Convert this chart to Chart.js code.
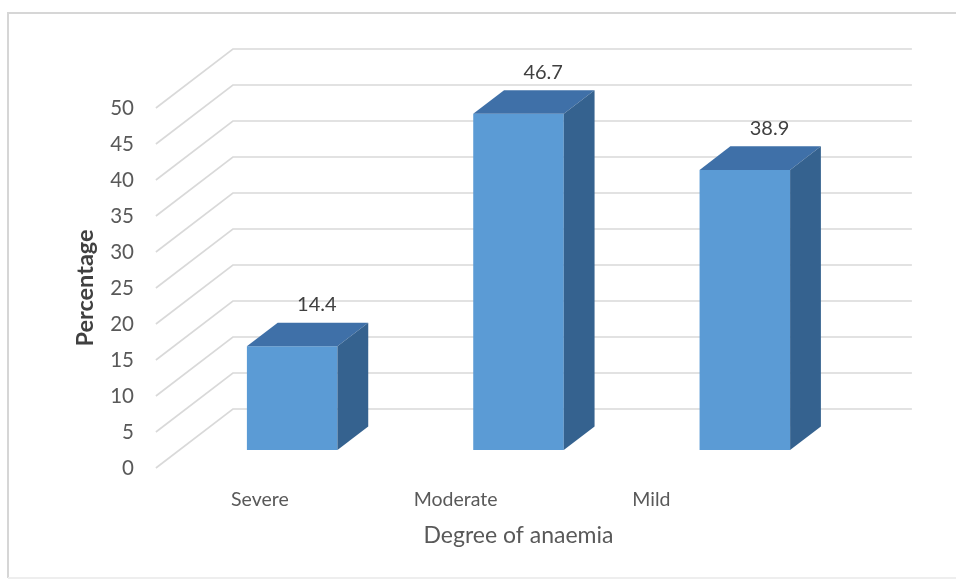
<!DOCTYPE html>
<html>
<head>
<meta charset="utf-8">
<title>Degree of anaemia</title>
<script src="https://cdn.jsdelivr.net/npm/chart.js@4.4.0/dist/chart.umd.min.js"></script>
<style>
  html, body { margin: 0; padding: 0; background: #fff; }
  #wrap { width: 956px; height: 584px; }
</style>
</head>
<body>
<div id="wrap"><canvas id="anaemiaChart" width="956" height="584"></canvas></div>
<script>
const categories = ["Severe", "Moderate", "Mild"];
const percentages = [14.4, 46.7, 38.9];
const percentTicks = [0, 5, 10, 15, 20, 25, 30, 35, 40, 45, 50];

const FONT = "Lato, 'Open Sans', sans-serif";
const FRONT_COLOR = "#5b9bd5";
const TOP_COLOR = "#3f70a8";
const SIDE_COLOR = "#35628f";
const GRID_COLOR = "#d9d9d9";

// depth of the 3D floor, from the front edge to the back wall
const wallDepth = { x: 77, y: -59 };
// bars occupy the middle of that depth
const barStart = 0.3;
const barEnd = 0.7;
// category labels sit on the front edge of the floor
const labelShrink = 0.865;
const labelShift = -17;

const threeD = {
  id: "threeD",
  beforeDraw(chart) {
    const { ctx, width, height } = chart;
    ctx.save();
    ctx.fillStyle = "#fff";
    ctx.fillRect(0, 0, width, height);
    ctx.lineWidth = 2;
    ctx.strokeStyle = "#d6d6d6";
    ctx.beginPath();
    ctx.moveTo(8, height - 6);
    ctx.lineTo(8, 13);
    ctx.lineTo(width, 13);
    ctx.stroke();
    ctx.strokeStyle = "#eeeeee";
    ctx.beginPath();
    ctx.moveTo(8, height - 6);
    ctx.lineTo(width, height - 6);
    ctx.stroke();
    ctx.restore();
  },
  beforeDatasetsDraw(chart) {
    const { ctx, chartArea, scales: { y } } = chart;
    const x0 = chartArea.left - wallDepth.x * barStart;
    const right = chartArea.right + wallDepth.x * (1 - barStart);
    ctx.save();
    ctx.strokeStyle = GRID_COLOR;
    ctx.lineWidth = 1.6;
    percentTicks.forEach(v => {
      const py = y.getPixelForValue(v);
      ctx.beginPath();
      ctx.moveTo(x0, py);
      ctx.lineTo(x0 + wallDepth.x, py + wallDepth.y);
      ctx.lineTo(right, py + wallDepth.y);
      ctx.stroke();
    });
    ctx.restore();
  },
  afterDatasetsDraw(chart) {
    const { ctx, chartArea } = chart;
    const meta = chart.getDatasetMeta(0);
    const dx = wallDepth.x * (barEnd - barStart);
    const dy = wallDepth.y * (barEnd - barStart);
    ctx.save();
    meta.data.forEach((bar, i) => {
      const { x, y, base, width } = bar.getProps(["x", "y", "base", "width"], true);
      const l = x - width / 2;
      const r = x + width / 2;

      // top face
      ctx.fillStyle = TOP_COLOR;
      ctx.beginPath();
      ctx.moveTo(l, y);
      ctx.lineTo(l + dx, y + dy);
      ctx.lineTo(r + dx, y + dy);
      ctx.lineTo(r, y);
      ctx.closePath();
      ctx.fill();

      // right side face
      ctx.fillStyle = SIDE_COLOR;
      ctx.beginPath();
      ctx.moveTo(r, y);
      ctx.lineTo(r + dx, y + dy);
      ctx.lineTo(r + dx, base + dy);
      ctx.lineTo(r, base);
      ctx.closePath();
      ctx.fill();

      // value above the bar
      ctx.fillStyle = "#404040";
      ctx.font = "20px " + FONT;
      ctx.textAlign = "center";
      ctx.textBaseline = "middle";
      ctx.fillText(percentages[i].toFixed(1), x + dx * 0.8, y + dy - 18);

      // category name on the floor edge
      ctx.fillStyle = "#595959";
      ctx.font = "19.5px " + FONT;
      const lx = chartArea.left + labelShift + (x - chartArea.left) * labelShrink;
      ctx.fillText(categories[i], lx, chartArea.bottom + 32);
    });
    ctx.restore();
  }
};

const ctx = document.getElementById("anaemiaChart").getContext("2d");
new Chart(ctx, {
  type: "bar",
  data: {
    labels: categories,
    datasets: [{
      label: "Percentage",
      data: percentages,
      backgroundColor: FRONT_COLOR,
      borderWidth: 0,
      yAxisID: "yBar",
      barPercentage: 0.4,
      categoryPercentage: 1
    }]
  },
  options: {
    responsive: false,
    animation: false,
    devicePixelRatio: 1,
    layout: { padding: { top: 108, right: 98, left: 0, bottom: 0 } },
    plugins: {
      legend: { display: false },
      tooltip: { enabled: false }
    },
    scales: {
      x: {
        type: "category",
        grid: { display: false },
        border: { display: false },
        ticks: { display: false },
        title: {
          display: true,
          text: "Degree of anaemia",
          color: "#595959",
          font: { family: FONT, size: 23 },
          padding: { top: 0, bottom: 35 }
        },
        afterFit(scale) { scale.height = 116; }
      },
      // front plane of the chart, carries the tick labels
      y: {
        type: "linear",
        position: "left",
        min: 0,
        max: 50,
        grid: { display: false, drawTicks: false },
        border: { display: false },
        afterBuildTicks(scale) {
          scale.ticks = percentTicks.map(v => ({ value: v }));
        },
        ticks: {
          color: "#595959",
          font: { family: FONT, size: 20.5 },
          padding: 45
        },
        title: {
          display: true,
          text: "Percentage",
          color: "#404040",
          font: { family: FONT, size: 23.5, weight: "bold" },
          padding: { top: 71, bottom: 0 }
        },
        afterFit(scale) { scale.width = 179; }
      },
      // plane of the bar fronts, set back from the front edge
      yBar: {
        type: "linear",
        position: "left",
        display: false,
        min: -2.5,
        max: 47.5
      }
    }
  },
  plugins: [threeD]
});
</script>
</body>
</html>
